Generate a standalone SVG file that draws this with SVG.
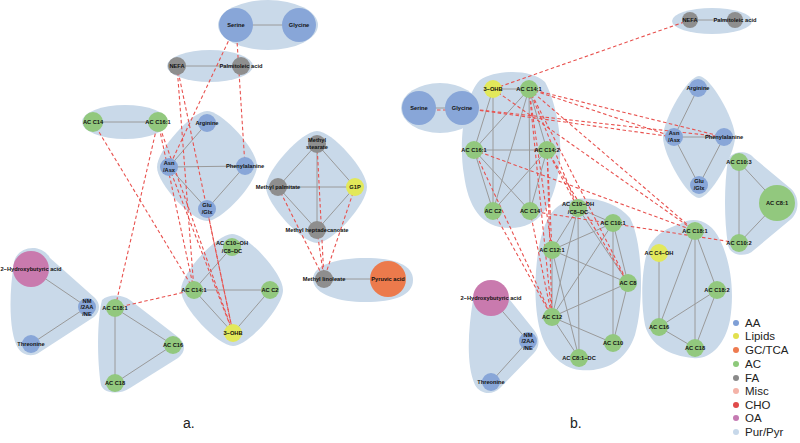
<svg xmlns="http://www.w3.org/2000/svg" width="800" height="443" viewBox="0 0 800 443">
<style>
.hull{fill:#c9d9e9;stroke:none}
.e{stroke:#9a9a9a;stroke-width:1;fill:none}
.d{stroke:#e8524f;stroke-width:1.1;stroke-dasharray:3.5,2.5;fill:none}
.aa{fill:#88a6d8}.ac{fill:#92c87e}.fa{fill:#8e8e8e}.li{fill:#e2e85a}.oa{fill:#c97aae}.gc{fill:#ec7a4c}
text{font-family:"Liberation Sans",Arial,sans-serif;font-size:5.7px;font-weight:bold;fill:#111;text-anchor:middle}
.leg{font-size:11.5px;font-weight:normal;text-anchor:start;fill:#222}
.pl{font-size:14px;font-weight:normal;text-anchor:start;fill:#222}
</style>
<rect width="800" height="443" fill="#fff"/>
<g id="hulls">
<ellipse class="hull" cx="268" cy="25" rx="50" ry="25"/>
<ellipse class="hull" cx="210" cy="66" rx="43" ry="16"/>
<ellipse class="hull" cx="125" cy="122" rx="43" ry="17"/>
<path class="hull" d="M207,111 C222,111 257,149 257,166 C257,183 222,221 207,221 C192,221 157,184 157,167 C157,150 192,111 207,111 Z"/>
<path class="hull" d="M317,131 C332,131 367,170 367,187 C367,204 332,243 317,243 C302,243 266,204 266,187 C266,170 302,131 317,131 Z"/>
<path class="hull" d="M232,234 C247,234 283,273 283,290 C283,307 248,346 233,346 C218,346 181,307 181,290 C181,273 217,234 232,234 Z"/>
<path class="hull" d="M313,279 C313,264 340,258 365,258 C395,258 413,265 413,280 C413,295 395,302 365,302 C340,302 313,295 313,279 Z"/>
<path class="hull" d="M14,262 C18,245 42,243 50,258 L95,298 C101,304 100,312 94,317 L40,352 C32,358 22,355 18,348 C10,335 8,300 14,262 Z"/>
<path class="hull" d="M102,300 C108,294 122,294 130,300 L178,337 C186,343 186,352 178,358 L130,388 C120,395 104,394 101,385 C97,360 97,320 102,300 Z"/>
<ellipse class="hull" cx="712" cy="21" rx="40" ry="13"/>
<ellipse class="hull" cx="440" cy="108" rx="39" ry="25"/>
<path class="hull" d="M480,80 C495,70 530,68 545,82 C555,100 565,140 558,175 C552,205 540,228 510,228 C480,228 468,205 464,175 C458,140 465,95 480,80 Z"/>
<path class="hull" d="M560,205 C580,192 615,200 630,218 C642,240 645,300 635,335 C625,365 600,372 580,370 C560,368 545,350 540,330 C532,300 535,250 545,225 C550,213 555,208 560,205 Z"/>
<path class="hull" d="M680,224 C695,215 712,222 720,240 C730,260 735,290 730,320 C725,345 710,360 693,358 C670,356 650,345 645,325 C640,300 642,260 650,245 C658,232 668,228 680,224 Z"/>
<path class="hull" d="M699,76 C710,76 735,119 735,137 C735,155 710,198 699,198 C688,198 663,155 663,137 C663,119 688,76 699,76 Z"/>
<path class="hull" d="M728,160 C732,150 748,150 754,158 L790,188 C800,196 800,212 790,220 L754,250 C746,258 730,256 728,245 C724,220 724,185 728,160 Z"/>
<path class="hull" d="M473,300 C475,282 505,278 510,300 L534,330 C540,338 540,346 534,353 L500,388 C492,396 480,394 475,385 C466,365 468,330 473,300 Z"/>
</g>
<g id="connectors">
<line class="e" x1="236" y1="25" x2="299" y2="25"/>
<line class="e" x1="177" y1="66" x2="241" y2="66"/>
<line class="e" x1="93" y1="122" x2="158" y2="122"/>
<line class="e" x1="207" y1="123" x2="169" y2="167"/>
<line class="e" x1="169" y1="167" x2="245" y2="166"/>
<line class="e" x1="169" y1="167" x2="207" y2="209"/>
<line class="e" x1="207" y1="209" x2="245" y2="166"/>
<line class="e" x1="317" y1="144" x2="278" y2="187"/>
<line class="e" x1="317" y1="144" x2="355" y2="187"/>
<line class="e" x1="317" y1="144" x2="317" y2="230"/>
<line class="e" x1="278" y1="187" x2="355" y2="187"/>
<line class="e" x1="278" y1="187" x2="317" y2="230"/>
<line class="e" x1="355" y1="187" x2="317" y2="230"/>
<line class="e" x1="324" y1="279" x2="388" y2="279"/>
<line class="e" x1="31" y1="269" x2="87" y2="307"/>
<line class="e" x1="87" y1="307" x2="31" y2="344"/>
<line class="e" x1="115" y1="308" x2="173" y2="345"/>
<line class="e" x1="115" y1="308" x2="115" y2="383"/>
<line class="e" x1="173" y1="345" x2="115" y2="383"/>
<line class="e" x1="232" y1="247" x2="194" y2="290"/>
<line class="e" x1="194" y1="290" x2="270" y2="290"/>
<line class="e" x1="194" y1="290" x2="233" y2="333"/>
<line class="e" x1="270" y1="290" x2="233" y2="333"/>
<line class="e" x1="690" y1="20" x2="735" y2="20"/>
<line class="e" x1="419" y1="108" x2="462" y2="108"/>
<line class="e" x1="493" y1="89" x2="529" y2="89"/>
<line class="e" x1="493" y1="89" x2="474" y2="150"/>
<line class="e" x1="493" y1="89" x2="493" y2="211"/>
<line class="e" x1="529" y1="89" x2="474" y2="150"/>
<line class="e" x1="529" y1="89" x2="493" y2="211"/>
<line class="e" x1="529" y1="89" x2="530" y2="211"/>
<line class="e" x1="529" y1="89" x2="547" y2="150"/>
<line class="e" x1="474" y1="150" x2="547" y2="150"/>
<line class="e" x1="474" y1="150" x2="493" y2="211"/>
<line class="e" x1="474" y1="150" x2="530" y2="211"/>
<line class="e" x1="547" y1="150" x2="493" y2="211"/>
<line class="e" x1="547" y1="150" x2="530" y2="211"/>
<line class="e" x1="578" y1="208" x2="613" y2="223"/>
<line class="e" x1="578" y1="208" x2="552" y2="250"/>
<line class="e" x1="578" y1="208" x2="552" y2="317"/>
<line class="e" x1="578" y1="208" x2="579" y2="358"/>
<line class="e" x1="578" y1="208" x2="628" y2="283"/>
<line class="e" x1="613" y1="223" x2="552" y2="250"/>
<line class="e" x1="613" y1="223" x2="552" y2="317"/>
<line class="e" x1="613" y1="223" x2="613" y2="343"/>
<line class="e" x1="613" y1="223" x2="628" y2="283"/>
<line class="e" x1="552" y1="250" x2="628" y2="283"/>
<line class="e" x1="552" y1="250" x2="552" y2="317"/>
<line class="e" x1="552" y1="250" x2="579" y2="358"/>
<line class="e" x1="552" y1="317" x2="628" y2="283"/>
<line class="e" x1="552" y1="317" x2="613" y2="343"/>
<line class="e" x1="552" y1="317" x2="579" y2="358"/>
<line class="e" x1="628" y1="283" x2="613" y2="343"/>
<line class="e" x1="659" y1="253" x2="659" y2="327"/>
<line class="e" x1="695" y1="231" x2="659" y2="327"/>
<line class="e" x1="695" y1="231" x2="695" y2="348"/>
<line class="e" x1="695" y1="231" x2="717" y2="290"/>
<line class="e" x1="717" y1="290" x2="659" y2="327"/>
<line class="e" x1="717" y1="290" x2="695" y2="348"/>
<line class="e" x1="659" y1="327" x2="695" y2="348"/>
<line class="e" x1="698" y1="88" x2="674" y2="137"/>
<line class="e" x1="674" y1="137" x2="724" y2="137"/>
<line class="e" x1="674" y1="137" x2="699" y2="185"/>
<line class="e" x1="724" y1="137" x2="699" y2="185"/>
<line class="e" x1="739" y1="162" x2="777" y2="203"/>
<line class="e" x1="739" y1="162" x2="739" y2="243"/>
<line class="e" x1="777" y1="203" x2="739" y2="243"/>
<line class="e" x1="491" y1="298" x2="528" y2="341"/>
<line class="e" x1="528" y1="341" x2="491" y2="382"/>
<line class="d" x1="236" y1="25" x2="169" y2="167"/>
<line class="d" x1="236" y1="25" x2="245" y2="166"/>
<line class="d" x1="177" y1="66" x2="194" y2="290"/>
<line class="d" x1="177" y1="66" x2="233" y2="333"/>
<line class="d" x1="93" y1="122" x2="194" y2="290"/>
<line class="d" x1="158" y1="122" x2="115" y2="308"/>
<line class="d" x1="158" y1="122" x2="194" y2="290"/>
<line class="d" x1="158" y1="122" x2="233" y2="333"/>
<line class="d" x1="169" y1="167" x2="233" y2="333"/>
<line class="d" x1="207" y1="209" x2="233" y2="333"/>
<line class="d" x1="115" y1="308" x2="194" y2="290"/>
<line class="d" x1="317" y1="144" x2="324" y2="279"/>
<line class="d" x1="278" y1="187" x2="324" y2="279"/>
<line class="d" x1="355" y1="187" x2="324" y2="279"/>
<line class="d" x1="317" y1="230" x2="324" y2="279"/>
<line class="d" x1="690" y1="20" x2="493" y2="89"/>
<line class="d" x1="419" y1="110" x2="462" y2="110"/>
<line class="d" x1="462" y1="108" x2="674" y2="137"/>
<line class="d" x1="462" y1="108" x2="724" y2="137"/>
<line class="d" x1="529" y1="89" x2="674" y2="137"/>
<line class="d" x1="529" y1="89" x2="724" y2="137"/>
<line class="d" x1="529" y1="89" x2="695" y2="231"/>
<line class="d" x1="529" y1="89" x2="552" y2="250"/>
<line class="d" x1="529" y1="89" x2="578" y2="208"/>
<line class="d" x1="529" y1="89" x2="628" y2="283"/>
<line class="d" x1="529" y1="89" x2="552" y2="317"/>
<line class="d" x1="547" y1="150" x2="552" y2="250"/>
<line class="d" x1="547" y1="150" x2="552" y2="317"/>
<line class="d" x1="547" y1="150" x2="578" y2="208"/>
<line class="d" x1="547" y1="150" x2="628" y2="283"/>
<line class="d" x1="474" y1="150" x2="695" y2="231"/>
<line class="d" x1="474" y1="150" x2="552" y2="317"/>
<line class="d" x1="530" y1="211" x2="552" y2="317"/>
<line class="d" x1="530" y1="211" x2="739" y2="243"/>
<line class="d" x1="493" y1="211" x2="552" y2="317"/>
<line class="d" x1="493" y1="89" x2="695" y2="231"/>
</g>
<g id="serineL"><circle class="aa" cx="236" cy="25" r="17"/><text x="236" y="27">Serine</text></g>
<g id="glycineL"><circle class="aa" cx="299" cy="25" r="17"/><text x="299" y="27">Glycine</text></g>
<g id="nefaL"><circle class="fa" cx="177" cy="66" r="9"/><text x="177" y="68">NEFA</text></g>
<g id="palmL"><circle class="fa" cx="241" cy="66" r="9"/><text x="241" y="68">Palmitoleic acid</text></g>
<g id="c14L"><circle class="ac" cx="93" cy="122" r="10"/><text x="93" y="124">AC C14</text></g>
<g id="c161L"><circle class="ac" cx="158" cy="122" r="10"/><text x="158" y="124">AC C16:1</text></g>
<g id="argL"><circle class="aa" cx="207" cy="123" r="9"/><text x="207" y="125">Arginine</text></g>
<g id="asnL"><circle class="aa" cx="169" cy="167" r="9"/><text x="169" y="165">Asn</text><text x="169" y="172">/Asx</text></g>
<g id="pheL"><circle class="aa" cx="245" cy="166" r="9"/><text x="245" y="168">Phenylalanine</text></g>
<g id="gluL"><circle class="aa" cx="207" cy="209" r="9"/><text x="207" y="207">Glu</text><text x="207" y="214">/Glx</text></g>
<g id="mstearL"><circle class="fa" cx="317" cy="144" r="9"/><text x="317" y="142">Methyl</text><text x="317" y="149">stearate</text></g>
<g id="mpalmL"><circle class="fa" cx="278" cy="187" r="9"/><text x="278" y="189">Methyl palmitate</text></g>
<g id="g1pL"><circle class="li" cx="355" cy="187" r="9"/><text x="355" y="189">G1P</text></g>
<g id="mheptL"><circle class="fa" cx="317" cy="230" r="9"/><text x="317" y="232">Methyl heptadecanoate</text></g>
<g id="mlinL"><circle class="fa" cx="324" cy="279" r="9"/><text x="324" y="281">Methyl linoleate</text></g>
<g id="pyrL"><circle class="gc" cx="388" cy="279" r="18"/><text x="388" y="281">Pyruvic acid</text></g>
<g id="hbL"><circle class="oa" cx="31" cy="269" r="18"/><text x="31" y="271">2−Hydroxybutyric acid</text></g>
<g id="nmL"><circle class="aa" cx="87" cy="307" r="9"/><text x="87" y="302.5">NM</text><text x="87" y="309">/2AA</text><text x="87" y="315.5">/NE</text></g>
<g id="thrL"><circle class="aa" cx="31" cy="344" r="9"/><text x="31" y="346">Threonine</text></g>
<g id="c181L"><circle class="ac" cx="115" cy="308" r="9"/><text x="115" y="310">AC C18:1</text></g>
<g id="c16L"><circle class="ac" cx="173" cy="345" r="9"/><text x="173" y="347">AC C16</text></g>
<g id="c18L"><circle class="ac" cx="115" cy="383" r="9"/><text x="115" y="385">AC C18</text></g>
<g id="c10ohL"><circle class="ac" cx="232" cy="247" r="9"/><text x="232" y="245.3">AC C10−OH</text><text x="232" y="252.7">/C8−DC</text></g>
<g id="c141L"><circle class="ac" cx="194" cy="290" r="9"/><text x="194" y="292">AC C14:1</text></g>
<g id="c2L"><circle class="ac" cx="270" cy="290" r="9"/><text x="270" y="292">AC C2</text></g>
<g id="ohbL"><circle class="li" cx="233" cy="333" r="9"/><text x="233" y="335">3−OHB</text></g>
<g id="nefaR"><circle class="fa" cx="690" cy="20" r="8"/><text x="690" y="22">NEFA</text></g>
<g id="palmR"><circle class="fa" cx="735" cy="20" r="8"/><text x="735" y="22">Palmitoleic acid</text></g>
<g id="serineR"><circle class="aa" cx="419" cy="108" r="17"/><text x="419" y="110">Serine</text></g>
<g id="glycineR"><circle class="aa" cx="462" cy="108" r="17"/><text x="462" y="110">Glycine</text></g>
<g id="ohbR"><circle class="li" cx="493" cy="89" r="9"/><text x="493" y="91">3−OHB</text></g>
<g id="c141R"><circle class="ac" cx="529" cy="89" r="9"/><text x="529" y="91">AC C14:1</text></g>
<g id="c161R"><circle class="ac" cx="474" cy="150" r="9"/><text x="474" y="152">AC C16:1</text></g>
<g id="c142R"><circle class="ac" cx="547" cy="150" r="9"/><text x="547" y="152">AC C14:2</text></g>
<g id="c2R"><circle class="ac" cx="493" cy="211" r="9"/><text x="493" y="213">AC C2</text></g>
<g id="c14R"><circle class="ac" cx="530" cy="211" r="9"/><text x="530" y="213">AC C14</text></g>
<g id="c10ohR"><circle class="ac" cx="578" cy="208" r="9"/><text x="578" y="206.3">AC C10−OH</text><text x="578" y="213.7">/C8−DC</text></g>
<g id="c101R"><circle class="ac" cx="613" cy="223" r="9"/><text x="613" y="225">AC C10:1</text></g>
<g id="c121R"><circle class="ac" cx="552" cy="250" r="9"/><text x="552" y="252">AC C12:1</text></g>
<g id="c8R"><circle class="ac" cx="628" cy="283" r="9"/><text x="628" y="285">AC C8</text></g>
<g id="c12R"><circle class="ac" cx="552" cy="317" r="9"/><text x="552" y="319">AC C12</text></g>
<g id="c10R"><circle class="ac" cx="613" cy="343" r="9"/><text x="613" y="345">AC C10</text></g>
<g id="c81dcR"><circle class="ac" cx="579" cy="358" r="9"/><text x="579" y="360">AC C8:1−DC</text></g>
<g id="c181R"><circle class="ac" cx="695" cy="231" r="9"/><text x="695" y="233">AC C18:1</text></g>
<g id="c4ohR"><circle class="li" cx="659" cy="253" r="9"/><text x="659" y="255">AC C4−OH</text></g>
<g id="c182R"><circle class="ac" cx="717" cy="290" r="9"/><text x="717" y="292">AC C18:2</text></g>
<g id="c16R"><circle class="ac" cx="659" cy="327" r="9"/><text x="659" y="329">AC C16</text></g>
<g id="c18R"><circle class="ac" cx="695" cy="348" r="9"/><text x="695" y="350">AC C18</text></g>
<g id="argR"><circle class="aa" cx="698" cy="88" r="9"/><text x="698" y="90">Arginine</text></g>
<g id="asnR"><circle class="aa" cx="674" cy="137" r="9"/><text x="674" y="135">Asn</text><text x="674" y="142">/Asx</text></g>
<g id="pheR"><circle class="aa" cx="724" cy="137" r="9"/><text x="724" y="139">Phenylalanine</text></g>
<g id="gluR"><circle class="aa" cx="699" cy="185" r="9"/><text x="699" y="183">Glu</text><text x="699" y="190">/Glx</text></g>
<g id="c103R"><circle class="ac" cx="739" cy="162" r="9"/><text x="739" y="164">AC C10:3</text></g>
<g id="c81R"><circle class="ac" cx="777" cy="203" r="18"/><text x="777" y="205">AC C8:1</text></g>
<g id="c102R"><circle class="ac" cx="739" cy="243" r="9"/><text x="739" y="245">AC C10:2</text></g>
<g id="hbR"><circle class="oa" cx="491" cy="298" r="18"/><text x="491" y="300">2−Hydroxybutyric acid</text></g>
<g id="nmR"><circle class="aa" cx="528" cy="341" r="9"/><text x="528" y="336.5">NM</text><text x="528" y="343">/2AA</text><text x="528" y="349.5">/NE</text></g>
<g id="thrR"><circle class="aa" cx="491" cy="382" r="9"/><text x="491" y="384">Threonine</text></g>
<g id="legend">
<circle cx="736" cy="323" r="3" fill="#7f9fd6"/><text class="leg" x="745" y="327">AA</text>
<circle cx="736" cy="336" r="3" fill="#e2e04e"/><text class="leg" x="745" y="340">Lipids</text>
<circle cx="736" cy="350" r="3" fill="#ee7b50"/><text class="leg" x="745" y="354">GC/TCA</text>
<circle cx="736" cy="364" r="3" fill="#8dc97a"/><text class="leg" x="745" y="368">AC</text>
<circle cx="736" cy="378" r="3" fill="#8a8a8a"/><text class="leg" x="745" y="382">FA</text>
<circle cx="736" cy="391" r="3" fill="#f4b3a8"/><text class="leg" x="745" y="395">Misc</text>
<circle cx="736" cy="405" r="3" fill="#e04a4a"/><text class="leg" x="745" y="409">CHO</text>
<circle cx="736" cy="418" r="3" fill="#c57ab2"/><text class="leg" x="745" y="422">OA</text>
<circle cx="736" cy="432" r="3" fill="#c7d8ea"/><text class="leg" x="745" y="436">Pur/Pyr</text>
</g>
<text class="pl" x="183" y="428">a.</text>
<text class="pl" x="570" y="428">b.</text>
</svg>
